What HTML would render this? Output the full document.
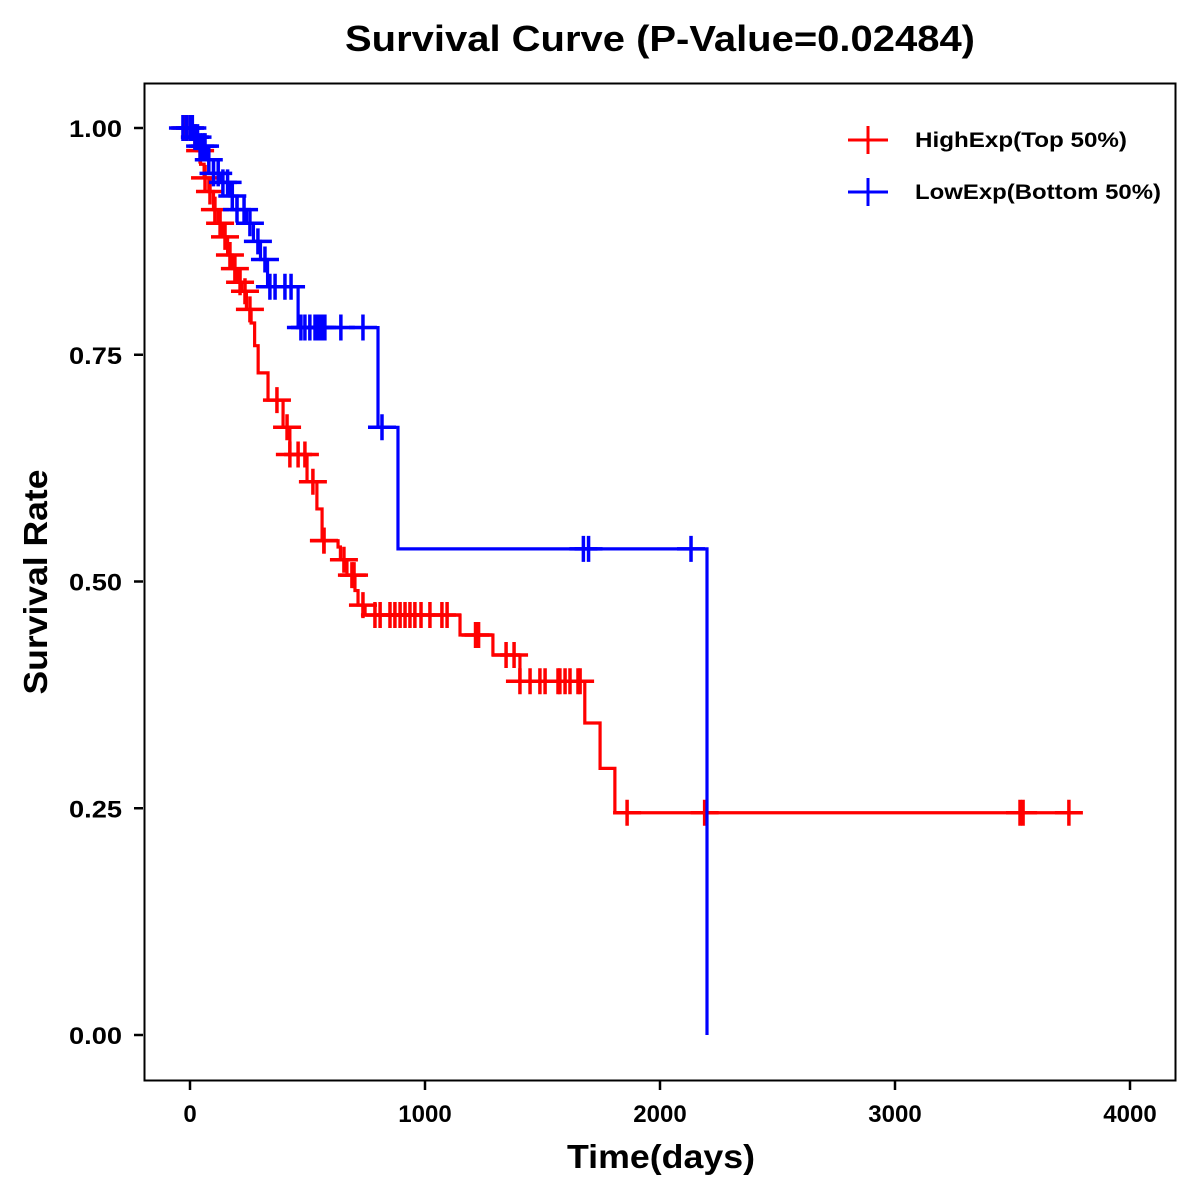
<!DOCTYPE html>
<html><head><meta charset="utf-8">
<style>
html,body{margin:0;padding:0;background:#fff;}
svg{display:block;font-family:"Liberation Sans",Arial,sans-serif;font-weight:bold;}
</style></head>
<body>
<svg id="chart" width="1200" height="1200" viewBox="0 0 1200 1200">
<text x="660" y="51" font-size="36" text-anchor="middle" textLength="630" lengthAdjust="spacingAndGlyphs">Survival Curve (P-Value=0.02484)</text>
<rect x="144.5" y="83.5" width="1031" height="997" fill="none" stroke="#000" stroke-width="2"/>
<g id="axes"></g>
<g id="series"></g>
<text x="661" y="1168" font-size="33" text-anchor="middle" textLength="188" lengthAdjust="spacingAndGlyphs">Time(days)</text>
<text transform="translate(47,582) rotate(-90)" font-size="33" text-anchor="middle" textLength="225" lengthAdjust="spacingAndGlyphs">Survival Rate</text>
<g>
 <g>
  <line x1="848" y1="140" x2="888" y2="140" stroke="#f00" stroke-width="3"/>
  <line x1="868" y1="126" x2="868" y2="154" stroke="#f00" stroke-width="3"/>
  <text x="915" y="147" font-size="21" textLength="212" lengthAdjust="spacingAndGlyphs">HighExp(Top 50%)</text>
 </g>
 <g>
  <line x1="848" y1="192" x2="888" y2="192" stroke="#00f" stroke-width="3"/>
  <line x1="868" y1="178" x2="868" y2="206" stroke="#00f" stroke-width="3"/>
  <text x="915" y="199" font-size="21" textLength="246" lengthAdjust="spacingAndGlyphs">LowExp(Bottom 50%)</text>
 </g>
</g>
</svg>
<script>
const xTicks = [0, 1000, 2000, 3000, 4000];
const yTicks = [0, 0.25, 0.5, 0.75, 1.0];
const yTickLabels = ["0.00", "0.25", "0.50", "0.75", "1.00"];

const highTimes = [0,15,30,45,60,80,100,120,140,160,180,200,220,240,260,275,290,332,396,425,498,540,562,630,640,668,702,715,745,1149,1289,1404,1680,1745,1808];
const highSurv  = [1,.99,.975,.96,.945,.93,.91,.895,.88,.86,.845,.83,.82,.80,.785,.76,.73,.70,.67,.64,.61,.58,.545,.538,.524,.507,.49,.474,.463,.441,.419,.39,.344,.294,.245];
const highEnd = 3766;
const highCensor = [-21,0,21,43,64,85,106,128,149,170,191,213,234,255,370,413,425,460,489,523,570,570,655,689,698,736,787,809,851,872,894,915,936,957,983,1021,1072,1094,1215,1228,1345,1379,1404,1447,1489,1511,1566,1574,1596,1617,1651,1660,1860,2190,3532,3545,3740];

const lowTimes = [0,20,40,70,100,130,170,200,240,270,300,330,460,800,885,2200];
const lowSurv  = [1,.99,.98,.965,.95,.94,.925,.91,.895,.875,.855,.825,.78,.67,.536,0];
const lowEnd = 2200;
const lowCensor = [-30,-15,0,10,21,32,43,55,64,80,100,120,140,160,180,200,230,255,289,319,340,362,404,430,472,489,510,532,545,553,562,574,642,736,817,1674,1696,2132];

function sx(t){ return 190 + t*0.2350; }
function sy(s){ return 1035 - s*907; }

const NS="http://www.w3.org/2000/svg";
const axes=document.getElementById('axes');
const series=document.getElementById('series');

xTicks.forEach(v=>{
  const l=document.createElementNS(NS,'line');
  l.setAttribute('x1',sx(v));l.setAttribute('x2',sx(v));
  l.setAttribute('y1',1081);l.setAttribute('y2',1090);
  l.setAttribute('stroke','#000');l.setAttribute('stroke-width','2.5');
  
  
  axes.appendChild(l);
  const t=document.createElementNS(NS,'text');
  t.setAttribute('x',sx(v));t.setAttribute('y',1122);
  t.setAttribute('font-size','24');t.setAttribute('text-anchor','middle');
  t.textContent=String(v);
  
  
  axes.appendChild(t);
});
yTicks.forEach((v,i)=>{
  const l=document.createElementNS(NS,'line');
  l.setAttribute('x1',134);l.setAttribute('x2',143);
  l.setAttribute('y1',sy(v));l.setAttribute('y2',sy(v));
  l.setAttribute('stroke','#000');l.setAttribute('stroke-width','2.5');
  
  
  axes.appendChild(l);
  const t=document.createElementNS(NS,'text');
  t.setAttribute('x',122);t.setAttribute('y',sy(v)+9);
  t.setAttribute('font-size','24');t.setAttribute('text-anchor','end');
  t.setAttribute('textLength','53');t.setAttribute('lengthAdjust','spacingAndGlyphs');
  t.textContent=yTickLabels[i];
  
  
  axes.appendChild(t);
});

function survAt(times,surv,t){
  let s=surv[0];
  for(let i=0;i<times.length;i++){ if(times[i]<=t) s=surv[i]; }
  return s;
}

function drawSeries(times,surv,end,cens,color,name){
  const g=document.createElementNS(NS,'g');
  
  
  let d='M'+sx(times[0])+','+sy(surv[0]);
  for(let i=1;i<times.length;i++){
    d+=' H'+sx(times[i])+' V'+sy(surv[i]);
  }
  d+=' H'+sx(end);
  const p=document.createElementNS(NS,'path');
  p.setAttribute('d',d);p.setAttribute('fill','none');
  p.setAttribute('stroke',color);p.setAttribute('stroke-width','3.2');
  
  
  g.appendChild(p);
  cens.forEach(t=>{
    const x=sx(t), y=sy(survAt(times,surv,t));
    const c=document.createElementNS(NS,'path');
    c.setAttribute('d','M'+(x-14)+','+y+' H'+(x+14)+' M'+x+','+(y-13)+' V'+(y+13));
    c.setAttribute('stroke',color);c.setAttribute('stroke-width','3.5');c.setAttribute('fill','none');
    
    
    g.appendChild(c);
  });
  series.appendChild(g);
}
drawSeries(highTimes,highSurv,highEnd,highCensor,'#ff0000','high-exp-series');
drawSeries(lowTimes,lowSurv,lowEnd,lowCensor,'#0000ff','low-exp-series');
</script>
</body></html>
